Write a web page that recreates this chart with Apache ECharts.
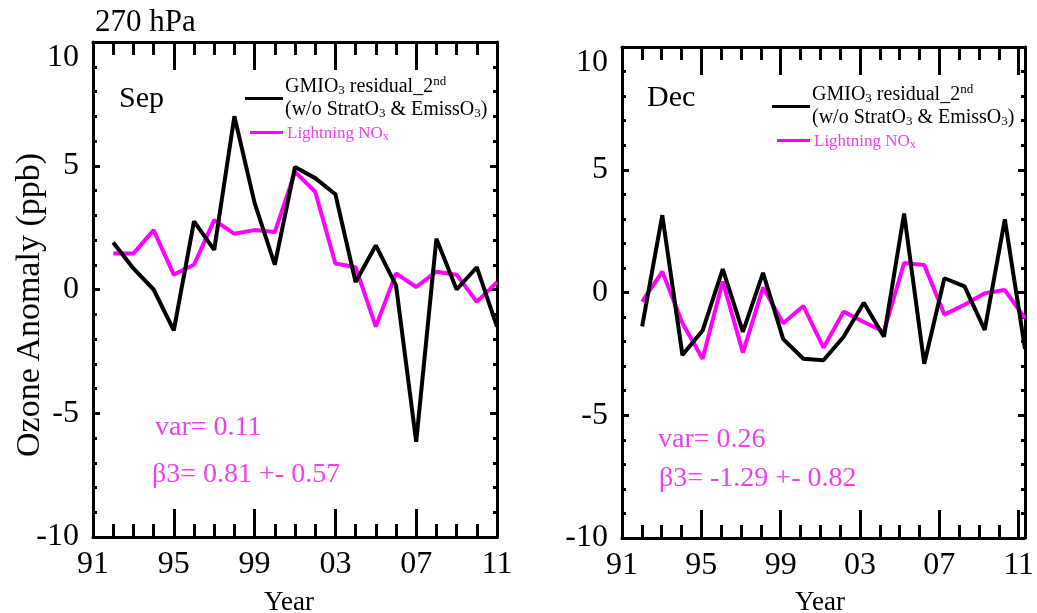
<!DOCTYPE html>
<html>
<head>
<meta charset="utf-8">
<title>270 hPa ozone anomaly</title>
<script src="https://cdn.jsdelivr.net/npm/echarts@6/dist/echarts.min.js"></script>
<style>
  html, body { margin: 0; padding: 0; background: #fff; }
  #wrap { position: relative; width: 1037px; height: 613px; }
  #chart { position: absolute; left: 0; top: 0; width: 1037px; height: 613px; }
  .lbl { position: absolute; white-space: nowrap; font-family: 'Liberation Serif'; line-height: 1; color: #000; }
  .pink { color: #ef3fef; }
  .leg { font-size: 20px; }
  .leg sub, .leg sup { font-size: 13px; line-height: 0; }
  .leg sub { vertical-align: -2px; }
  .leg sup { vertical-align: 7px; }
  .legsmall { font-size: 17px; }
  .legsmall sub { font-size: 12px; vertical-align: -2px; line-height: 0; }
  .mark { position: absolute; }
</style>
</head>
<body>
<div id="wrap">
  <div id="chart"></div>

  <div class="lbl" style="left:95px; top:5px; font-size:31px">270 hPa</div>
  <div class="lbl" style="left:119px; top:82px; font-size:30px">Sep</div>
  <div class="lbl" style="left:647px; top:81px; font-size:30px">Dec</div>

  <!-- axis titles -->
  <div class="lbl" style="left:28px; top:305px; font-size:34px; transform: translate(-50%, -50%) rotate(-90deg)">Ozone Anomaly (ppb)</div>
  <div class="lbl" style="left:289px; top:588px; font-size:27px; transform: translateX(-50%)">Year</div>
  <div class="lbl" style="left:820px; top:588px; font-size:27px; transform: translateX(-50%)">Year</div>

  <!-- regression notes -->
  <div class="lbl pink" style="left:155px; top:412px; font-size:28px">var= 0.11</div>
  <div class="lbl pink" style="left:152px; top:459px; font-size:28px">β3= 0.81 +- 0.57</div>
  <div class="lbl pink" style="left:658px; top:424px; font-size:28px">var= 0.26</div>
  <div class="lbl pink" style="left:659px; top:463px; font-size:28px">β3= -1.29 +- 0.82</div>

  <!-- legend, Sep panel -->
  <div class="mark" style="left:245px; top:97px; width:38px; height:3px; background:#000"></div>
  <div class="lbl leg" style="left:285px; top:75px">GMIO<sub>3</sub> residual_2<sup>nd</sup></div>
  <div class="lbl leg" style="left:285px; top:98px">(w/o StratO<sub>3</sub> &amp; EmissO<sub>3</sub>)</div>
  <div class="mark" style="left:250px; top:131px; width:33px; height:2.5px; background:#ff00ff"></div>
  <div class="lbl legsmall pink" style="left:287px; top:124px">Lightning NO<sub>x</sub></div>

  <!-- legend, Dec panel -->
  <div class="mark" style="left:772px; top:105px; width:38px; height:3px; background:#000"></div>
  <div class="lbl leg" style="left:812px; top:83px">GMIO<sub>3</sub> residual_2<sup>nd</sup></div>
  <div class="lbl leg" style="left:812px; top:106px">(w/o StratO<sub>3</sub> &amp; EmissO<sub>3</sub>)</div>
  <div class="mark" style="left:777px; top:139px; width:33px; height:2.5px; background:#ff00ff"></div>
  <div class="lbl legsmall pink" style="left:814px; top:132px">Lightning NO<sub>x</sub></div>
</div>
<script>
// years of the anomaly series
const years = [1992, 1993, 1994, 1995, 1996, 1997, 1998, 1999, 2000, 2001,
  2002, 2003, 2004, 2005, 2006, 2007, 2008, 2009, 2010, 2011]

// Sep panel
const sepResidual = [1.9, 0.85, 0.0, -1.65, 2.75, 1.6, 7.0, 3.5, 1.0, 4.95,
  4.5, 3.85, 0.3, 1.78, 0.17, -6.15, 2.05, 0.0, 0.9, -1.5]
const sepLightning = [1.45, 1.45, 2.4, 0.6, 1.0, 2.8, 2.25, 2.4, 2.32, 4.75,
  3.95, 1.05, 0.9, -1.5, 0.65, 0.1, 0.72, 0.6, -0.5, 0.3]

// Dec panel
const decResidual = [-1.38, 3.15, -2.55, -1.55, 0.95, -1.6, 0.8, -1.9, -2.7, -2.76,
  -1.8, -0.42, -1.8, 3.22, -2.9, 0.58, 0.25, -1.52, 2.98, -2.3]
const decLightning = [-0.37, 0.85, -1.25, -2.7, 0.45, -2.45, 0.2, -1.25, -0.55, -2.25,
  -0.78, -1.2, -1.6, 1.2, 1.12, -0.9, -0.5, -0.03, 0.1, -1.05]

const chart = echarts.init(document.getElementById('chart'))

// panel boxes; the data grids and the frame-only grids share them
const boxes = [
  { left: 93, top: 42, width: 404, height: 495 },
  { left: 622, top: 47, width: 403, height: 491 }
]

function pairs (ys) {
  return years.map((yr, i) => [yr, ys[i]])
}

function xAxisFor (grid, position, visible) {
  return {
    type: 'value',
    gridIndex: grid,
    position: position,
    show: visible,
    min: 1991,
    max: 2011,
    interval: 4,
    axisLine: { show: true, onZero: false, lineStyle: { color: '#000', width: 3 } },
    axisTick: { show: true, inside: true, length: 28, lineStyle: { color: '#000', width: 3 } },
    minorTick: { show: true, splitNumber: 4, length: 13, lineStyle: { color: '#000', width: 3 } },
    splitLine: { show: false },
    axisLabel: {
      show: position === 'bottom',
      margin: 12,
      color: '#000',
      fontFamily: 'Liberation Serif',
      fontSize: 32,
      formatter: v => String(v % 100).padStart(2, '0')
    }
  }
}

function yAxisFor (grid, position, visible) {
  return {
    type: 'value',
    gridIndex: grid,
    position: position,
    show: visible,
    min: -10,
    max: 10,
    interval: 5,
    axisLine: { show: true, onZero: false, lineStyle: { color: '#000', width: 3 } },
    axisTick: { show: true, inside: true, length: 7, lineStyle: { color: '#000', width: 3 } },
    minorTick: { show: true, splitNumber: 5, length: 4, lineStyle: { color: '#000', width: 3 } },
    splitLine: { show: false },
    axisLabel: {
      show: position === 'left',
      margin: 14,
      color: '#000',
      fontFamily: 'Liberation Serif',
      fontSize: 32,
      verticalAlignMaxLabel: 'top'
    }
  }
}

function lineSeries (axis, data, color) {
  return {
    type: 'line',
    xAxisIndex: axis,
    yAxisIndex: axis,
    showSymbol: false,
    data: pairs(data),
    lineStyle: { color: color, width: 4 }
  }
}

chart.setOption({
  animation: false,
  // grids 0,1 hold the lines; grids 2,3 only draw the year axes (ticks + labels)
  grid: [boxes[0], boxes[1], boxes[0], boxes[1]],
  xAxis: [
    xAxisFor(0, 'bottom', false),
    xAxisFor(1, 'bottom', false),
    xAxisFor(2, 'bottom', true), xAxisFor(2, 'top', true),
    xAxisFor(3, 'bottom', true), xAxisFor(3, 'top', true)
  ],
  yAxis: [
    yAxisFor(0, 'left', true), yAxisFor(0, 'right', true),
    yAxisFor(1, 'left', true), yAxisFor(1, 'right', true),
    yAxisFor(2, 'left', false), yAxisFor(3, 'left', false)
  ],
  series: [
    { type: 'line', xAxisIndex: 0, yAxisIndex: 0, showSymbol: false, data: pairs(sepLightning), lineStyle: { color: '#ff00ff', width: 4 } },
    { type: 'line', xAxisIndex: 0, yAxisIndex: 0, showSymbol: false, data: pairs(sepResidual), lineStyle: { color: '#000', width: 4 } },
    { type: 'line', xAxisIndex: 1, yAxisIndex: 2, showSymbol: false, data: pairs(decLightning), lineStyle: { color: '#ff00ff', width: 4 } },
    { type: 'line', xAxisIndex: 1, yAxisIndex: 2, showSymbol: false, data: pairs(decResidual), lineStyle: { color: '#000', width: 4 } }
  ]
})
</script>
</body>
</html>
